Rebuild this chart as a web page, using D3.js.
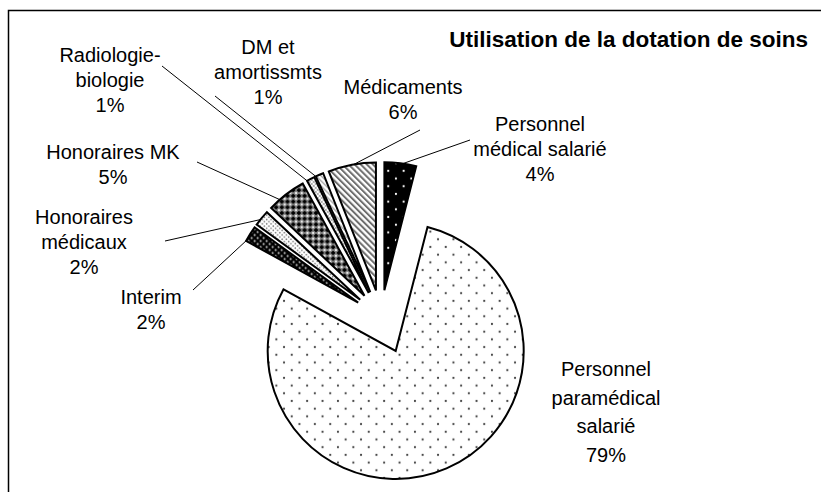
<!DOCTYPE html>
<html>
<head>
<meta charset="utf-8">
<script src="https://cdnjs.cloudflare.com/ajax/libs/d3/7.8.5/d3.min.js"></script>
<style>
  body { margin: 0; background: #fff; }
  text { font-family: "Liberation Sans", Arial, sans-serif; fill: #000; }
</style>
</head>
<body>
<div id="chart"></div>
<script>
var title = "Utilisation de la dotation de soins";

// slices, clockwise from 12 o'clock
var categories = ["Personnel médical salarié", "Personnel paramédical salarié", "Interim",
    "Honoraires médicaux", "Honoraires MK", "Radiologie-biologie", "DM et amortissmts", "Médicaments"];
var values = [4, 79, 2, 2, 5, 1, 1, 6];
var labelLines = [
    ["Personnel", "médical salarié"],
    ["Personnel", "paramédical", "salarié"],
    ["Interim"],
    ["Honoraires", "médicaux"],
    ["Honoraires MK"],
    ["Radiologie-", "biologie"],
    ["DM et", "amortissmts"],
    ["Médicaments"]
];
var fills = ["pm", "para", "interim", "honmed", "honmk", "radio", "dm", "med"];

// label placement (x centre, first baseline, line height, leader start, leader end along arc)
var labelLayout = [
    {x: 540, y: 131, lh: 25, lx: 470, ly: 140, t: 0.58},
    {x: 606, y: 376, lh: 28.5},
    {x: 151, y: 304, lh: 25, lx: 193, ly: 290, t: 0.0},
    {x: 84, y: 224, lh: 25, lx: 165, ly: 241, t: 0.39},
    {x: 113, y: 159, lh: 25, lx: 197, ly: 162, t: 0.3},
    {x: 110, y: 62, lh: 25, lx: 162, ly: 66, t: 0.0},
    {x: 268, y: 54, lh: 25, lx: 215, ly: 96, t: 0.0},
    {x: 403, y: 94, lh: 25, lx: 420, ly: 130, t: 0.54}
];

var width = 821, height = 492;
var cx = 381, cy = 317, radius = 128;
var explodeSmall = 27, explodeBig = 37;

var svg = d3.select("#chart").append("svg")
    .attr("width", width)
    .attr("height", height);

svg.append("rect").attr("width", width).attr("height", height).attr("fill", "#fff");

// hatch patterns, like the old Excel fills
var defs = svg.append("defs");

function dotPattern(id, size, bg, dot, r) {
    var p = defs.append("pattern").attr("id", id)
        .attr("patternUnits", "userSpaceOnUse")
        .attr("width", size).attr("height", size);
    p.append("rect").attr("width", size).attr("height", size).attr("fill", bg);
    [[size / 4, size / 4], [size * 3 / 4, size * 3 / 4]].forEach(function(c) {
        p.append("circle").attr("cx", c[0]).attr("cy", c[1]).attr("r", r).attr("fill", dot);
    });
    return p;
}

dotPattern("pm", 15.4, "#000", "#fff", 1.1);
dotPattern("para", 15.4, "#fff", "#444", 1.1);
dotPattern("interim", 6, "#000", "#ddd", 1);
dotPattern("honmed", 4.4, "#fff", "#777", 0.8);
dotPattern("radio", 4, "#fff", "#888", 0.9);

var mk = defs.append("pattern").attr("id", "honmk")
    .attr("patternUnits", "userSpaceOnUse")
    .attr("width", 5.7).attr("height", 5.7);
mk.append("rect").attr("width", 5.7).attr("height", 5.7).attr("fill", "#8a8a8a");
mk.append("path").attr("d", "M2.85,0.4L5.3,2.85L2.85,5.3L0.4,2.85Z").attr("fill", "#000");
[[0, 0], [5.7, 0], [0, 5.7], [5.7, 5.7]].forEach(function(c) {
    mk.append("circle").attr("cx", c[0]).attr("cy", c[1]).attr("r", 1).attr("fill", "#fff");
});

function stripePattern(id, size, color, w) {
    var p = defs.append("pattern").attr("id", id)
        .attr("patternUnits", "userSpaceOnUse")
        .attr("width", size).attr("height", size)
        .attr("patternTransform", "rotate(-45)");
    p.append("rect").attr("width", size).attr("height", size).attr("fill", "#fff");
    p.append("rect").attr("width", w).attr("height", size).attr("fill", color);
}
stripePattern("med", 4.3, "#6e6e6e", 2);
stripePattern("dm", 3.6, "#aaa", 1.4);

// pie
var data = categories.map(function(c, i) {
    return {name: c, value: values[i], lines: labelLines[i], fill: fills[i], layout: labelLayout[i]};
});

var pie = d3.pie().sort(null).value(function(d) { return d.value; });
var arc = d3.arc().innerRadius(0).outerRadius(radius);
var arcs = pie(data);

function offset(d) {
    var a = (d.startAngle + d.endAngle) / 2;
    var e = d.data.value > 50 ? explodeBig : explodeSmall;
    return [cx + e * Math.sin(a), cy - e * Math.cos(a)];
}

svg.selectAll(".slice")
    .data(arcs)
    .enter().append("path")
    .attr("class", "slice")
    .attr("transform", function(d) { var o = offset(d); return "translate(" + o[0] + "," + o[1] + ")"; })
    .attr("d", arc)
    .attr("fill", function(d) { return "url(#" + d.data.fill + ")"; })
    .attr("stroke", "#000")
    .attr("stroke-width", 2)
    .attr("stroke-linejoin", "miter");

// leader lines
svg.selectAll(".leader")
    .data(arcs.filter(function(d) { return d.data.layout.lx !== undefined; }))
    .enter().append("line")
    .attr("class", "leader")
    .attr("x1", function(d) { return d.data.layout.lx; })
    .attr("y1", function(d) { return d.data.layout.ly; })
    .attr("x2", function(d) {
        var a = d.startAngle + (d.endAngle - d.startAngle) * d.data.layout.t;
        return offset(d)[0] + radius * Math.sin(a);
    })
    .attr("y2", function(d) {
        var a = d.startAngle + (d.endAngle - d.startAngle) * d.data.layout.t;
        return offset(d)[1] - radius * Math.cos(a);
    })
    .attr("stroke", "#000")
    .attr("stroke-width", 1);

// labels
var labels = svg.selectAll(".label")
    .data(data)
    .enter().append("text")
    .attr("class", "label")
    .attr("text-anchor", "middle")
    .style("font-size", "20px");

labels.each(function(d) {
    var t = d3.select(this);
    d.lines.concat([d.value + "%"]).forEach(function(line, i) {
        t.append("tspan")
            .attr("x", d.layout.x)
            .attr("y", d.layout.y + i * d.layout.lh)
            .text(line);
    });
});

svg.append("text")
    .attr("x", 808)
    .attr("y", 46.5)
    .attr("text-anchor", "end")
    .style("font-size", "22.5px")
    .style("font-weight", "bold")
    .text(title);

// chart area border (runs off the right and bottom edges)
svg.append("rect")
    .attr("x", 8.5).attr("y", 10.5)
    .attr("width", 900).attr("height", 600)
    .attr("fill", "none")
    .attr("stroke", "#000")
    .attr("stroke-width", 1.5);
</script>
</body>
</html>
